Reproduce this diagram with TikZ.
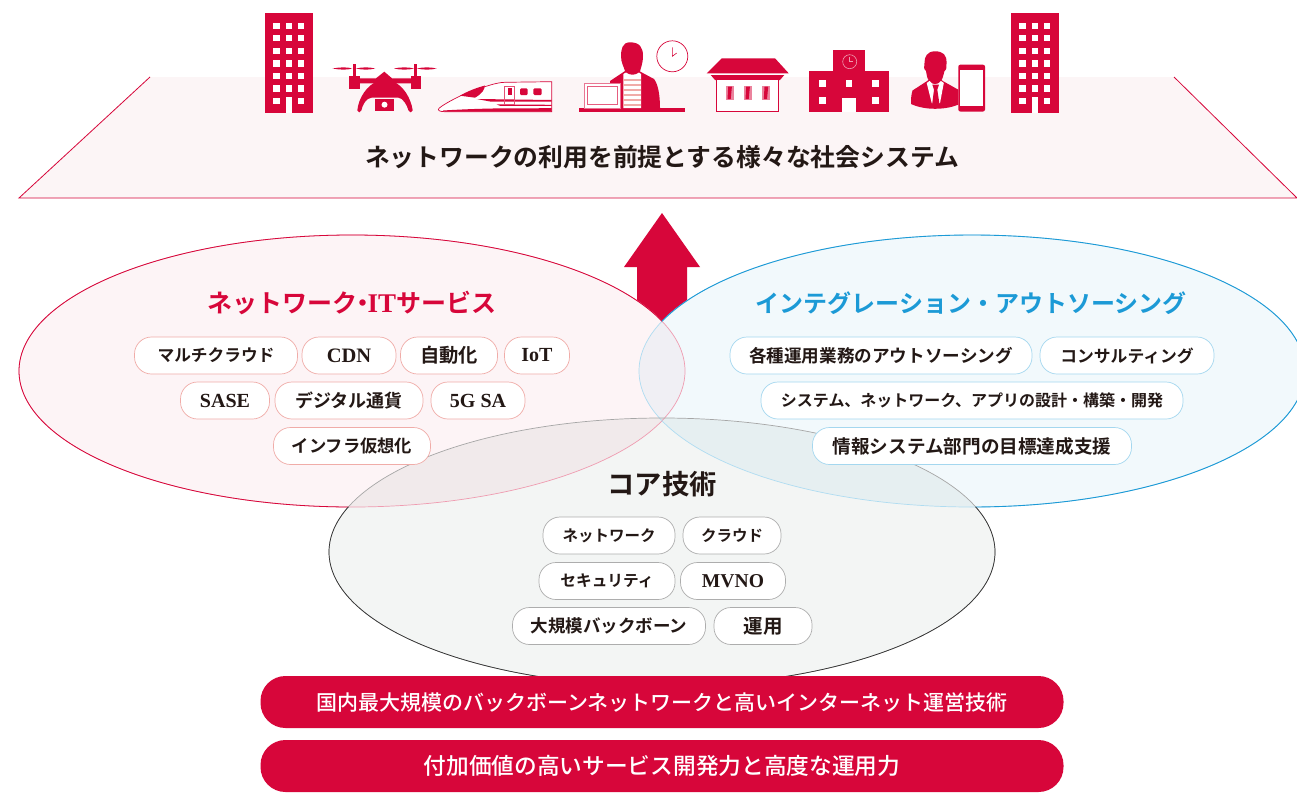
\documentclass[tikz,border=0pt]{standalone}
\usepackage{fontspec}
\setmainfont{Noto Sans CJK JP}[BoldFont={* Bold}]
\newfontfamily\jpm{Noto Sans CJK JP Medium}
\newfontfamily\lat{Liberation Serif}[BoldFont={* Bold}]
\definecolor{crim}{HTML}{D7063A}
\definecolor{skyb}{HTML}{1C9AD6}
\definecolor{pinkf}{HTML}{FCF5F6}
\definecolor{tk}{HTML}{231815}
\definecolor{coregray}{RGB}{40,80,60}
\definecolor{salmon}{RGB}{240,172,168}
\newcommand{\ltn}[2]{{\lat\bfseries\fontsize{#1}{#1}\selectfont #2}}
\newcommand{\redE}{(352,371) ellipse (333 and 136)}
\newcommand{\bluE}{(972,371) ellipse (333 and 136)}
\newcommand{\corE}{(662,552) ellipse (333 and 134)}
\newcommand{\frm}{(-10,-10) rectangle (1310,800)}
\tikzset{x=1pt,y=-1pt,
 eoclip/.code={\pgfseteorule},
 fs/.style={font=\bfseries\fontsize{#1}{#1}\selectfont},
 pillr/.style={draw=salmon,line width=.7pt,fill=white,rounded corners=17pt,minimum height=37pt,inner sep=0pt,text=tk,fs=16,anchor=center},
 pillb/.style={pillr,draw=skyb!40},
 pillg/.style={pillr,draw=black!32},
 bar/.style={fill=crim,rounded corners=25pt,minimum height=52pt,minimum width=803pt,text=white,inner sep=0pt}}
\begin{document}
\begin{tikzpicture}
\useasboundingbox (0,0) rectangle (1297,792);
\fill[white] (0,0) rectangle (1297,792);
% platform
\fill[pinkf] (150,77) -- (1174,77) -- (1297,198) -- (19,198) -- cycle;
\draw[crim,line width=.8pt] (150,77) -- (19,198) -- (1297,198) -- (1174,77);
\node[text=tk,fs=24.8] (title) at (662,157) {ネットワークの利用を前提とする様々な社会システム};
% towers
\foreach \ox in {265,1011}{
 \fill[crim] (\ox,13) rectangle +(48,99.7);
 \foreach \c in {0,1,2}\foreach \r in {0,...,6}{\fill[white] (\ox+8.3+\c*12.4,22.7+\r*12.55) rectangle +(6.2,6.2);}
 \fill[white] (\ox+20.7,97) rectangle +(6.2,15.7);
}
% drone
\fill[crim] (353,64) rectangle (355.8,77); \fill[crim] (414,64) rectangle (416.8,77);
\fill[crim] (332.5,68.5) .. controls (340,67) and (348,67) .. (352,68.5) .. controls (348,70) and (340,70) .. (332.5,68.5)
 (356,68.5) .. controls (362,67) and (370,67) .. (375,68.5) .. controls (370,70) and (362,70) .. (356,68.5);
\fill[crim] (394,68.5) .. controls (400,67) and (409,67) .. (414,68.5) .. controls (409,70) and (400,70) .. (394,68.5)
 (417,68.5) .. controls (423,67) and (431,67) .. (436.5,68.5) .. controls (431,70) and (423,70) .. (417,68.5);
\fill[crim] (349,76) rectangle (359.5,88.5); \fill[crim] (410.5,76) rectangle (420.5,88.5);
\fill[crim] (359,78.3) -- (376,78.3) -- (384.3,71.7) -- (392,78.3) -- (411,78.3) -- (411,83.3) -- (359,83.3) -- cycle;
\fill[crim] (357.3,110.5) .. controls (357.5,113) and (361,113) .. (361.3,110.5) .. controls (362.5,105) and (366,98) .. (372,97.5) -- (398,97.5) .. controls (403,98) and (407,105) .. (408.5,110.5) .. controls (409,113) and (412.5,113) .. (412.7,110.5) .. controls (411,98) and (403,85) .. (392,81) -- (378,81) .. controls (367,85) and (358.5,98) .. (357.3,110.5) -- cycle;
\fill[crim] (375.3,98.7) rectangle (394,110.7);
\fill[white] (384.5,104.7) circle (3);
% train
\fill[white] (439,108.3) .. controls (445,103) and (470,90) .. (485,86.7) .. controls (493,84) and (500,82.3) .. (505,82.3) -- (551.7,81.7) -- (551.7,111.7) -- (445,111.7) .. controls (440,111.7) and (437,110.5) .. (439,108.3) -- cycle;
\draw[crim,line width=.7pt] (439,108.3) .. controls (445,103) and (470,90) .. (485,86.7) .. controls (493,84) and (500,82.3) .. (505,82.3) -- (551.7,81.7) -- (551.7,111.7) -- (445,111.7) .. controls (440,111.7) and (437,110.5) .. (439,108.3) -- cycle;
\fill[crim] (460,95.7) .. controls (468,91) and (476,88) .. (485,85.5) .. controls (484,90) and (483,93) .. (475,97.7) -- cycle;
\fill[crim] (476.7,99) -- (551.7,100) -- (551.7,101.5) -- (490,101.5) -- cycle;
\fill[crim] (496.7,104.4) -- (551.7,104.8) -- (551.7,105.8) -- (500,105.8) -- cycle;
\fill[crim] (443,110.5) .. controls (460,109.5) and (480,108.6) .. (500,108.4) -- (551.7,108.2) -- (551.7,111.7) -- (445,111.7) -- cycle;
\draw[crim!70,line width=.5pt] (504.3,86) rectangle (514.3,104.3);
\fill[crim] (507.7,88.3) rectangle (512.3,95);
\fill[crim,rounded corners=1.2pt] (520,88.3) rectangle (527.7,95); \fill[crim,rounded corners=1.2pt] (533.3,88.3) rectangle (541.7,95);
% worker
\fill[crim] (579,108) rectangle (684.5,112);
\fill[crim] (630,42.3) .. controls (622,42.3) and (621,50) .. (621,56) .. controls (621,63) and (624,67) .. (625,71) -- (610,81) -- (612,108) -- (660,108) .. controls (660,95) and (658,84) .. (654,79) -- (640,71.5) .. controls (641,67) and (643,63) .. (643,56) .. controls (643,48) and (640,42.3) .. (630,42.3) -- cycle;
\fill[white] (623.3,74) -- (626,72.5) .. controls (629,75.5) and (636,75.5) .. (639,72.5) -- (641,74) -- (641,108) -- (623.3,108) -- cycle;
\foreach \y in {79,84,89,94,99,104}{\fill[salmon] (623.3,\y) rectangle (641,\y+1.6);}
\fill[white,draw=crim!55,line width=.9pt] (584,83) rectangle (620.5,108);
\draw[crim!65,line width=.8pt] (587.7,86.3) rectangle (617.7,104);
\draw[crim,line width=.7pt] (672.3,56.3) circle (15.5);
\draw[crim,line width=.6pt] (672.3,47.3) -- (672.3,56.3) -- (676.7,53);
% shop
\fill[crim] (706.7,73.3) -- (721.7,58.3) -- (775,58.3) -- (788.7,73.3) -- cycle;
\fill[crim] (710.7,75) -- (784.3,75) -- (780,80) -- (715,80) -- cycle;
\fill[white] (716.5,79.5) rectangle (778.5,111.3); \draw[crim,line width=1.1pt] (716.5,79.5) rectangle (778.5,111.3);
\foreach \x in {725.7,743.7,762}{\fill[crim!50] (\x,85.7) rectangle +(7.8,14.3); \fill[crim] (\x+2.5,86.7) -- (\x+6.2,86.7) -- (\x+5,99) -- (\x+1.8,99) -- cycle;}
% school
\fill[crim] (832.7,50) rectangle (865.3,71.5); \fill[crim] (809.3,71) rectangle (889,112);
\fill[white] (842.3,97.7) rectangle (856,112);
\draw[white,opacity=.6,line width=.6pt] (849.7,61.7) circle (7); \draw[white,opacity=.6,line width=.5pt] (849.7,57) -- (849.7,61.7) -- (853,61.7);
\foreach \x/\y in {819.3/80,845.7/80,872.3/80,819.3/97.3,872.3/97.3}{\fill[white] (\x,\y) rectangle +(6.7,6.7);}
% businessman
\fill[crim] (935,51.3) .. controls (927,51.3) and (924.3,57) .. (924.5,63) .. controls (923.5,66) and (924,70) .. (926,71) .. controls (926.5,74) and (927,78) .. (928.5,80) -- (926.7,81.3) -- (912.5,90.5) .. controls (911,95) and (911,100) .. (911,104) .. controls (925,110.5) and (945,110) .. (958.3,104.7) -- (958.3,89.7) -- (943.3,81.3) -- (941.5,80) .. controls (943,78) and (943.5,74) .. (944.5,71) .. controls (946.5,70) and (947,66) .. (946.5,63) .. controls (947,55) and (943,51.3) .. (935,51.3) -- cycle;
\fill[white] (926.7,83) -- (929.5,81) .. controls (932,85.3) and (938,85.3) .. (941,81) -- (943.8,83) -- (940,103) -- (931.7,103) -- cycle;
\fill[crim] (932.3,84.7) -- (939,84.7) -- (937.3,89.7) -- (939.3,103) -- (935.7,106.3) -- (932.3,103) -- (934,89.7) -- cycle;
\fill[crim,rounded corners=2pt] (958.3,64.7) rectangle (985,111.5);
\fill[white] (960.3,69.7) rectangle (983.2,106.3);
% arrow
\fill[crim] (662,213) -- (700,267) -- (687,267) -- (687,330) -- (637,330) -- (637,267) -- (624,267) -- cycle;
% ellipses
\begin{scope}
\clip (0,0) rectangle (1297,792);
\fill[white] \redE; \fill[white] \bluE; \fill[white] \corE;
\fill[crim,fill opacity=.045] \redE;
\fill[skyb,fill opacity=.055] \bluE;
\fill[coregray,fill opacity=.055] \corE;
\draw[crim!40!white,line width=.7pt] \redE;
\draw[skyb!35!white,line width=.7pt] \bluE;
\draw[black!35,line width=.7pt] \corE;
\begin{scope}
\clip[eoclip] \frm \bluE;
\clip[eoclip] \frm \corE;
\draw[crim,line width=.8pt] \redE;
\end{scope}
\begin{scope}
\clip[eoclip] \frm \redE;
\clip[eoclip] \frm \corE;
\draw[skyb,line width=.9pt] \bluE;
\end{scope}
\begin{scope}
\clip[eoclip] \frm \redE;
\clip[eoclip] \frm \bluE;
\draw[black!80,line width=.7pt] \corE;
\end{scope}
\end{scope}
% headings
\node[text=crim,fs=25] (hnet) at (352,303) {ネットワーク{\kern-.3em}・{\kern-.3em}\ltn{27}{IT}サービス};
\node[text=skyb,fs=24] (hint) at (971,303) {インテグレーション・アウトソーシング};
\node[text=tk,fs=27.3] (hcore) at (662,484) {コア技術};
% pills red
\node[pillr,minimum width=163pt,fs=16.7] (r1) at (216,355.5) {マルチクラウド};
\node[pillr,minimum width=94pt] (r2) at (349,355.5) {\ltn{20.5}{CDN}};
\node[pillr,minimum width=97pt,fs=19.3] (r3) at (449,355.5) {自動化};
\node[pillr,minimum width=65pt] (r4) at (537,355.5) {\ltn{20}{IoT}};
\node[pillr,minimum width=89pt] (r5) at (225,400.5) {\ltn{20}{SASE}};
\node[pillr,minimum width=148pt,fs=18] (r6) at (349,400.5) {デジタル通貨};
\node[pillr,minimum width=94pt] (r7) at (478,400.5) {\ltn{20}{5G SA}};
\node[pillr,minimum width=157pt,fs=17.3] (r8) at (352,446) {インフラ仮想化};
% pills blue
\node[pillb,minimum width=302pt,fs=17.6] (b1) at (881,355.5) {各種運用業務のアウトソーシング};
\node[pillb,minimum width=174pt,fs=16.8] (b2) at (1127,355.5) {コンサルティング};
\node[pillb,minimum width=422pt] (b3) at (972,400.5) {システム、ネットワーク、アプリの設計・構築・開発};
\node[pillb,minimum width=319pt,fs=18.6] (b4) at (972,446) {情報システム部門の目標達成支援};
% pills gray
\node[pillg,minimum width=132pt,fs=15.5] (g1) at (609,535.5) {ネットワーク};
\node[pillg,minimum width=98pt,fs=15.5] (g2) at (732,535.5) {クラウド};
\node[pillg,minimum width=136pt,fs=15.7] (g3) at (607,581) {セキュリティ};
\node[pillg,minimum width=105pt] (g4) at (733,581) {\ltn{19.6}{MVNO}};
\node[pillg,minimum width=193pt,fs=17.5] (g5) at (609,626) {大規模バックボーン};
\node[pillg,minimum width=98pt,fs=19.5] (g6) at (763,626) {運用};
% bars
\node[bar,font=\jpm\fontsize{21}{21}\selectfont] (bar1) at (662,702) {国内最大規模のバックボーンネットワークと高いインターネット運営技術};
\node[bar,font=\jpm\fontsize{22.7}{22.7}\selectfont] (bar2) at (662,766) {付加価値の高いサービス開発力と高度な運用力};
\end{tikzpicture}
\end{document}
